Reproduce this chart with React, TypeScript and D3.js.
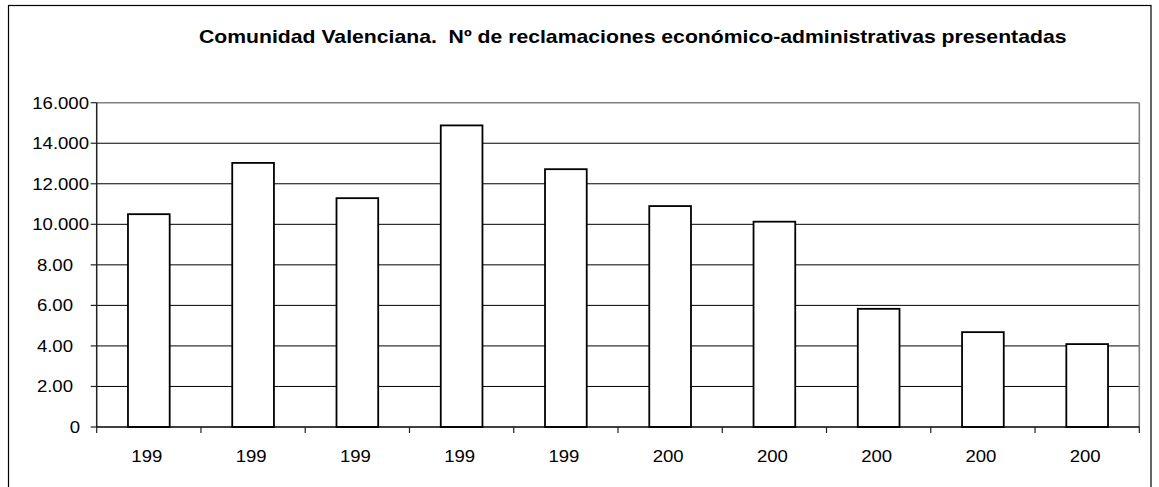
import * as d3 from 'd3';
import React from 'react';

// Years are shown truncated in the source chart ("199", "200")
const yearLabels = ['199', '199', '199', '199', '199', '200', '200', '200', '200', '200'];
const reclamaciones = [10500, 13030, 11290, 14880, 12720, 10900, 10130, 5830, 4680, 4090];
const yTicks = [0, 2000, 4000, 6000, 8000, 10000, 12000, 14000, 16000];
const yTickLabels = ['0', '2.00', '4.00', '6.00', '8.00', '10.000', '12.000', '14.000', '16.000'];
const title = 'Comunidad Valenciana.  N\u00ba de reclamaciones econ\u00f3mico-administrativas presentadas';

export default function App() {
  const width = 1159;
  const height = 487;
  const marginLeft = 96.7;
  const marginRight = 1139.3;
  const marginTop = 102.7;
  const marginBottom = 427;
  const stretch = 1.16; // source text is drawn wider than its height
  const font = 'Arial, "Liberation Sans", sans-serif';

  const keys = yearLabels.map((_, i) => String(i));
  const x = d3.scaleBand().domain(keys).range([marginLeft, marginRight]).padding(0);
  const y = d3.scaleLinear().domain([0, 16000]).range([marginBottom, marginTop]);
  const barW = x.bandwidth() * 0.4;

  // right edge of each y label (the source clips them unevenly)
  const labelRight = (s: string) => (s.length >= 6 ? 89 : s.length === 1 ? 80 : 73);

  const boundaries = d3.range(keys.length + 1).map(i => marginLeft + i * x.step());

  return (
    <svg width={width} height={height} style={{ position: 'absolute', left: 0, top: 0, background: '#fff' }}>
      <rect x={0} y={0} width={width} height={height} fill="#fff" />
      {/* outer chart frame */}
      <rect x={8.5} y={5.5} width={1142.5} height={520} fill="none" stroke="#000" strokeWidth={1.2} />

      <text
        transform={`translate(${632.7},${43}) scale(1.178,1)`}
        textAnchor="middle"
        fontFamily={font}
        fontWeight="bold"
        fontSize={18}
        style={{ whiteSpace: 'pre' }}
      >
        {title}
      </text>

      {/* gridlines */}
      {yTicks.slice(1, -1).map(t => (
        <line key={t} x1={marginLeft} x2={marginRight} y1={y(t)} y2={y(t)} stroke="#000" strokeWidth={1} />
      ))}
      {/* plot area border top / right */}
      <line x1={marginLeft} x2={marginRight} y1={marginTop} y2={marginTop} stroke="#808080" strokeWidth={1.6} />
      <line x1={marginRight} x2={marginRight} y1={marginTop} y2={marginBottom} stroke="#808080" strokeWidth={1.6} />

      {/* bars */}
      {reclamaciones.map((v, i) => (
        <rect
          key={i}
          x={(x(keys[i]) ?? 0) + (x.bandwidth() - barW) / 2}
          y={y(v)}
          width={barW}
          height={y(0) - y(v)}
          fill="#fff"
          stroke="#000"
          strokeWidth={1.8}
        />
      ))}

      {/* axes */}
      <line x1={marginLeft} x2={marginLeft} y1={marginTop} y2={marginBottom} stroke="#222" strokeWidth={1.5} />
      <line x1={marginLeft} x2={marginRight} y1={marginBottom} y2={marginBottom} stroke="#000" strokeWidth={1.5} />

      {yTicks.map((t, i) => (
        <g key={t}>
          <line x1={marginLeft - 6} x2={marginLeft} y1={y(t)} y2={y(t)} stroke="#222" strokeWidth={1.2} />
          <text
            transform={`translate(${labelRight(yTickLabels[i])},${y(t) + 5.8}) scale(${stretch},1)`}
            textAnchor="end"
            fontFamily={font}
            fontSize={16}
          >
            {yTickLabels[i]}
          </text>
        </g>
      ))}

      {boundaries.map((bx, i) => (
        <line key={i} x1={bx} x2={bx} y1={marginBottom} y2={marginBottom + 6} stroke="#222" strokeWidth={1.2} />
      ))}

      {yearLabels.map((lab, i) => (
        <text
          key={i}
          transform={`translate(${(x(keys[i]) ?? 0) + x.bandwidth() / 2 - 2},${462}) scale(${stretch},1)`}
          textAnchor="middle"
          fontFamily={font}
          fontSize={16}
        >
          {lab}
        </text>
      ))}
    </svg>
  );
}
